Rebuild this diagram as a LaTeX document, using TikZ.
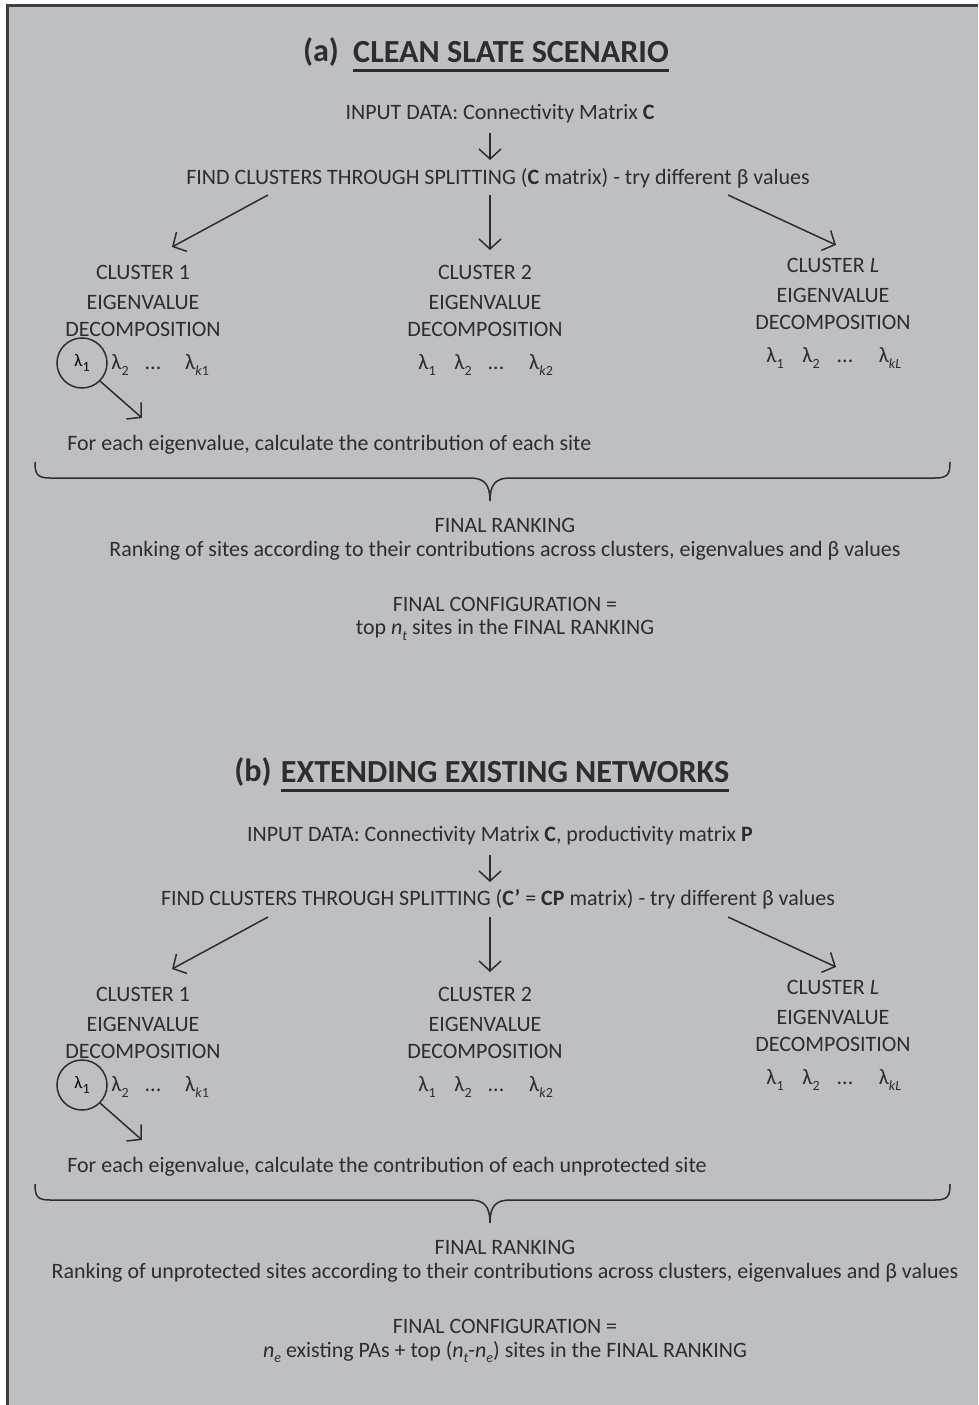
\documentclass[tikz,border=0pt]{standalone}
\usepackage{fontspec}
\setmainfont{Carlito}
\usetikzlibrary{arrows.meta}

\definecolor{panelgray}{RGB}{190,191,195}
\definecolor{inkgray}{RGB}{45,45,45}
\definecolor{framegray}{RGB}{62,62,62}

\newcommand\lmb[1]{λ\raisebox{-0.5ex}{\footnotesize #1}}
\newcommand\idx[2]{\textit{#1}\raisebox{-0.5ex}{\footnotesize\textit{#2}}}

\tikzset{
  txt/.style={inner sep=0pt,text=inkgray,font=\fontsize{12.5}{15}\selectfont},
  ttl/.style={inner sep=0pt,text=inkgray,font=\fontsize{18.3}{22}\selectfont\bfseries},
  arr/.style={draw=inkgray,line width=0.3mm,-{Straight Barb[length=2mm,width=4.4mm]}},
  ring/.style={draw=inkgray,line width=0.3mm,circle,minimum size=10mm,inner sep=0pt},
}

\begin{document}
\begin{tikzpicture}[x=0.2mm,y=-0.2mm]
% 978 x 1405 px, 1 px = 0.2mm
\useasboundingbox (0,0) rectangle (978,1405);
\path[fill=white] (0,0) rectangle (978,1405);
\path[fill=panelgray] (6,4) rectangle (978,1405);
\path[draw=framegray,line width=0.6mm] (7.5,1405) -- (7.5,5.5) -- (978,5.5);

% (a) clean slate
\node[ttl] (a-tag) at (321,52) {(a)};
\node[ttl] (a-title) at (511,52) {CLEAN SLATE SCENARIO};
\draw[inkgray,line width=0.6mm] ([yshift=-1.4mm]a-title.south west) -- ([yshift=-1.4mm]a-title.south east);
\node[txt] (a-input) at (500,114) {INPUT DATA: Connectivity Matrix \textbf{C}};
\node[txt] (a-find) at (498,178) {FIND CLUSTERS THROUGH SPLITTING (\textbf{C} matrix) - try different β values};
\coordinate (a-s0) at (490,133);
\coordinate (a-t0) at (490,160);
\draw[arr] (a-s0) -- (a-t0);

\node[txt] (a-c1) at (143,272) {CLUSTER 1};
\node[txt] (a-e1) at (143,302) {EIGENVALUE};
\node[txt] (a-d1) at (143,329) {DECOMPOSITION};
\node[ring] (a-l11) at (82,363) {\lmb{1}};
\node[txt] (a-l12) at (120,365) {\lmb{2}};
\node[txt] (a-l13) at (153,368) {...};
\node[txt] (a-l14) at (197,365) {\lmb{\textit{k}1}};

\node[txt] (a-c2) at (485,272) {CLUSTER 2};
\node[txt] (a-e2) at (485,302) {EIGENVALUE};
\node[txt] (a-d2) at (485,329) {DECOMPOSITION};
\node[txt] (a-l21) at (427,365) {\lmb{1}};
\node[txt] (a-l22) at (463,365) {\lmb{2}};
\node[txt] (a-l23) at (496,368) {...};
\node[txt] (a-l24) at (541,365) {\lmb{\textit{k}2}};

\node[txt] (a-c3) at (833,265) {CLUSTER \textit{L}};
\node[txt] (a-e3) at (833,295) {EIGENVALUE};
\node[txt] (a-d3) at (833,322) {DECOMPOSITION};
\node[txt] (a-l31) at (775,358) {\lmb{1}};
\node[txt] (a-l32) at (811,358) {\lmb{2}};
\node[txt] (a-l33) at (845,361) {...};
\node[txt] (a-l34) at (890,358) {\lmb{\textit{kL}}};

\coordinate (a-s1) at (268,195);
\coordinate (a-t1) at (172,247);
\coordinate (a-s2) at (490,195);
\coordinate (a-t2) at (490,250);
\coordinate (a-s3) at (728,195);
\coordinate (a-t3) at (836,245);
\draw[arr] (a-s1) -- (a-t1);
\draw[arr] (a-s2) -- (a-t2);
\draw[arr] (a-s3) -- (a-t3);

\coordinate (a-pick) at (142,418);
\draw[arr] (a-l11.-45) -- (a-pick);
\node[txt,anchor=west] (a-each) at (67,445) {For each eigenvalue, calculate the contribution of each site};

\path[draw=inkgray,line width=0.3mm] (35,462) .. controls (35,474) and (37,478) .. (50,478) -- (470,478)
  .. controls (484,478) and (490,484) .. (490,501)
  .. controls (490,484) and (496,478) .. (510,478) -- (935,478) .. controls (948,478) and (950,474) .. (950,462);

\node[txt] (a-rank) at (505,525) {FINAL RANKING};
\node[txt] (a-rank2) at (505,551) {Ranking of sites according to their contributions across clusters, eigenvalues and β values};
\node[txt] (a-conf) at (505,604) {FINAL CONFIGURATION =};
\node[txt] (a-conf2) at (505,630) {top \idx{n}{t} sites in the FINAL RANKING};

% (b) extending existing networks
\begin{scope}[shift={(0,722)}]
\node[ttl] (b-tag) at (253,50) {(b)};
\node[ttl] (b-title) at (505,50) {EXTENDING EXISTING NETWORKS};
\draw[inkgray,line width=0.6mm] ([yshift=-1.4mm]b-title.south west) -- ([yshift=-1.4mm]b-title.south east);
\node[txt] (b-input) at (500,114) {INPUT DATA: Connectivity Matrix \textbf{C}, productivity matrix \textbf{P}};
\node[txt] (b-find) at (498,177) {FIND CLUSTERS THROUGH SPLITTING (\textbf{C'} = \textbf{CP} matrix) - try different β values};
\coordinate (b-s0) at (490,133);
\coordinate (b-t0) at (490,160);
\draw[arr] (b-s0) -- (b-t0);

\node[txt] (b-c1) at (143,272) {CLUSTER 1};
\node[txt] (b-e1) at (143,302) {EIGENVALUE};
\node[txt] (b-d1) at (143,329) {DECOMPOSITION};
\node[ring] (b-l11) at (82,363) {\lmb{1}};
\node[txt] (b-l12) at (120,365) {\lmb{2}};
\node[txt] (b-l13) at (153,368) {...};
\node[txt] (b-l14) at (197,365) {\lmb{\textit{k}1}};

\node[txt] (b-c2) at (485,272) {CLUSTER 2};
\node[txt] (b-e2) at (485,302) {EIGENVALUE};
\node[txt] (b-d2) at (485,329) {DECOMPOSITION};
\node[txt] (b-l21) at (427,365) {\lmb{1}};
\node[txt] (b-l22) at (463,365) {\lmb{2}};
\node[txt] (b-l23) at (496,368) {...};
\node[txt] (b-l24) at (541,365) {\lmb{\textit{k}2}};

\node[txt] (b-c3) at (833,265) {CLUSTER \textit{L}};
\node[txt] (b-e3) at (833,295) {EIGENVALUE};
\node[txt] (b-d3) at (833,322) {DECOMPOSITION};
\node[txt] (b-l31) at (775,358) {\lmb{1}};
\node[txt] (b-l32) at (811,358) {\lmb{2}};
\node[txt] (b-l33) at (845,361) {...};
\node[txt] (b-l34) at (890,358) {\lmb{\textit{kL}}};

\coordinate (b-s1) at (268,195);
\coordinate (b-t1) at (172,247);
\coordinate (b-s2) at (490,195);
\coordinate (b-t2) at (490,250);
\coordinate (b-s3) at (728,195);
\coordinate (b-t3) at (836,245);
\draw[arr] (b-s1) -- (b-t1);
\draw[arr] (b-s2) -- (b-t2);
\draw[arr] (b-s3) -- (b-t3);

\coordinate (b-pick) at (142,418);
\draw[arr] (b-l11.-45) -- (b-pick);
\node[txt,anchor=west] (b-each) at (67,445) {For each eigenvalue, calculate the contribution of each unprotected site};

\path[draw=inkgray,line width=0.3mm] (35,462) .. controls (35,474) and (37,478) .. (50,478) -- (470,478)
  .. controls (484,478) and (490,484) .. (490,501)
  .. controls (490,484) and (496,478) .. (510,478) -- (935,478) .. controls (948,478) and (950,474) .. (950,462);

\node[txt] (b-rank) at (505,525) {FINAL RANKING};
\node[txt] (b-rank2) at (505,551) {Ranking of unprotected sites according to their contributions across clusters, eigenvalues and β values};
\node[txt] (b-conf) at (505,604) {FINAL CONFIGURATION =};
\node[txt] (b-conf2) at (505,630) {\idx{n}{e} existing PAs + top (\idx{n}{t}-\idx{n}{e}) sites in the FINAL RANKING};
\end{scope}
\end{tikzpicture}
\end{document}
